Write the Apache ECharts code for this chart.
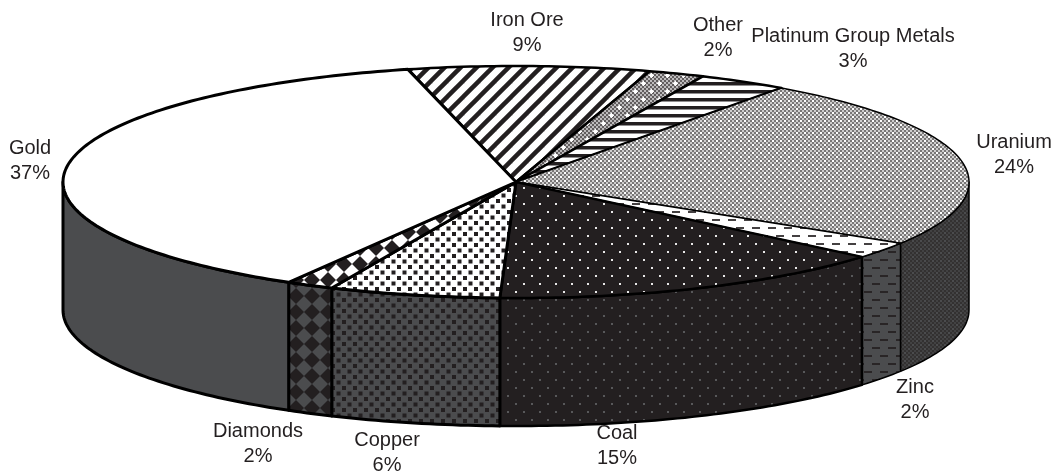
<!DOCTYPE html>
<html>
<head>
<meta charset="utf-8">
<title>Mining share</title>
<script src="https://cdn.jsdelivr.net/npm/echarts@6/dist/echarts.min.js"></script>
<style>
  html, body { margin: 0; padding: 0; background: #fff; }
  #chart { width: 1056px; height: 471px; }
</style>
</head>
<body>
<div id="chart"></div>
<script>
// slices clockwise, starting at the Gold / Iron Ore boundary
const categories = ['Iron Ore', 'Other', 'Platinum Group Metals', 'Uranium', 'Zinc', 'Coal', 'Copper', 'Diamonds', 'Gold']
// slice sizes as measured on the picture, the printed labels are rounded
const shares = [8.6, 2.0, 3.2, 23.9, 2.3, 14.4, 6.1, 1.7, 37.8]
const percentLabels = ['9%', '2%', '3%', '24%', '2%', '15%', '6%', '2%', '37%']

// pie geometry
const cx = 516, cy = 182, rx = 453, ry = 116, depth = 128
const startAngle = -13.8

// label centres and border widths, same order as categories
const labelCenters = [[527, 33], [718, 38], [853, 49], [1014, 155], [915, 400], [617, 446], [387, 453], [258, 444], [30, 161]]
const borderWidths = [2.5, 2.5, 2.5, 1.5, 1.5, 2.5, 3, 3, 3]

const INK = '#231f20'
const SIDE = '#4b4c4e'

// makes a repeating tile for a slice fill
const tile = (size, bg, draw) => {
  const c = document.createElement('canvas')
  c.width = c.height = size
  const ctx = c.getContext('2d')
  ctx.fillStyle = bg
  ctx.fillRect(0, 0, size, size)
  draw(ctx)
  return {image: c, repeat: 'repeat'}
}

const patterns = {
  'Iron Ore': (bg, ink) => tile(16, bg, ctx => {
    ctx.strokeStyle = ink
    ctx.lineWidth = 4.5
    for (const o of [-16, 0, 16]) {
      ctx.beginPath()
      ctx.moveTo(o - 2, 18)
      ctx.lineTo(o + 18, -2)
      ctx.stroke()
    }
  }),
  'Other': (bg, ink) => tile(16, bg, ctx => {
    ctx.fillStyle = ink
    ctx.globalAlpha = 0.6
    for (let x = 0; x < 16; x += 2) {
      for (let y = 0; y < 16; y += 2) {
        if ((x + y) % 4 === 0) ctx.fillRect(x, y, 2, 2)
      }
    }
    ctx.globalAlpha = 0.3
    ctx.fillRect(0, 0, 16, 16)
    ctx.globalAlpha = 1
    ctx.fillStyle = bg
    for (const [x, y] of [[3, 3], [11, 11]]) {
      ctx.fillRect(x - 1, y - 1, 3, 3)
      ctx.fillRect(x, y - 2, 1, 5)
      ctx.fillRect(x - 2, y, 5, 1)
    }
  }),
  'Platinum Group Metals': (bg, ink) => tile(8, bg, ctx => {
    ctx.fillStyle = ink
    ctx.fillRect(0, 2, 8, 3.5)
  }),
  'Uranium': (bg, ink) => tile(8, bg, ctx => {
    ctx.fillStyle = ink
    ctx.globalAlpha = 0.22
    ctx.fillRect(0, 0, 8, 8)
    ctx.globalAlpha = 0.5
    for (const [x, y] of [[2, 0], [6, 0], [0, 2], [4, 2], [2, 4], [6, 4], [0, 6], [4, 6]]) ctx.fillRect(x, y, 2, 2)
    ctx.globalAlpha = 1
    ctx.fillStyle = bg
    for (const [x, y] of [[0, 0], [4, 4]]) ctx.fillRect(x, y, 2, 2)
  }),
  'Zinc': (bg, ink) => tile(16, bg, ctx => {
    ctx.fillStyle = ink
    ctx.globalAlpha = 0.85
    ctx.fillRect(0, 3, 8, 2)
    ctx.fillRect(8, 11, 8, 2)
  }),
  'Coal': (bg, ink) => tile(16, bg, ctx => {
    ctx.fillStyle = ink
    ctx.fillRect(3, 3, 2, 2)
    ctx.fillRect(11, 11, 2, 2)
  }),
  'Copper': (bg, ink) => tile(11, bg, ctx => {
    ctx.fillStyle = ink
    ctx.fillRect(1, 1, 4, 4)
    ctx.fillRect(6.5, 6.5, 4, 4)
  }),
  'Diamonds': (bg, ink) => tile(16, bg, ctx => {
    ctx.fillStyle = ink
    ctx.beginPath()
    ctx.moveTo(8, 0)
    ctx.lineTo(16, 8)
    ctx.lineTo(8, 16)
    ctx.lineTo(0, 8)
    ctx.fill()
  }),
  'Gold': (bg) => bg
}

const fills = categories.map(name => {
  const dark = name === 'Coal'
  return {
    top: dark ? patterns[name](INK, '#e8e8e8') : patterns[name]('#ffffff', INK),
    side: dark ? patterns[name](INK, '#58585a') : patterns[name](SIDE, INK)
  }
})

// cumulative slice angles in degrees, clockwise from 12 o'clock
const total = shares.reduce((a, b) => a + b, 0)
const angles = [startAngle]
shares.forEach(v => angles.push(angles[angles.length - 1] + v / total * 360))

const rimPoint = (deg, dy) => {
  const t = deg * Math.PI / 180
  return [cx + rx * Math.sin(t), cy - ry * Math.cos(t) + dy]
}

const arc = (from, to, dy) => {
  const pts = []
  const n = Math.max(2, Math.ceil(Math.abs(to - from)))
  for (let i = 0; i <= n; i++) pts.push(rimPoint(from + (to - from) * i / n, dy))
  return pts
}

const renderSlice = (params) => {
  const i = params.dataIndex
  const a0 = angles[i], a1 = angles[i + 1]
  const lineWidth = borderWidths[i]
  const children = []

  // wall of the cylinder, only the front half is visible
  const lo = Math.max(a0, 90), hi = Math.min(a1, 270)
  if (hi > lo) {
    children.push({
      type: 'polygon',
      z2: 1,
      shape: {points: arc(lo, hi, 0).concat(arc(hi, lo, depth))},
      style: {fill: fills[i].side, stroke: '#000', lineWidth: lineWidth, lineJoin: 'round'}
    })
  }

  children.push({
    type: 'polygon',
    z2: 2,
    shape: {points: [[cx, cy]].concat(arc(a0, a1, 0))},
    style: {fill: fills[i].top, stroke: '#000', lineWidth: lineWidth, lineJoin: 'round'}
  })

  children.push({
    type: 'text',
    z2: 3,
    x: labelCenters[i][0],
    y: labelCenters[i][1],
    style: {
      text: categories[i] + '\n' + percentLabels[i],
      fill: '#231f20',
      font: '20px "Liberation Sans", Arial, sans-serif',
      lineHeight: 25,
      align: 'center',
      verticalAlign: 'middle'
    }
  })

  return {type: 'group', children: children}
}

const chart = echarts.init(document.getElementById('chart'), null, {renderer: 'canvas'})
chart.setOption({
  animation: false,
  backgroundColor: '#ffffff',
  series: [{
    type: 'custom',
    coordinateSystem: 'none',
    silent: true,
    clip: false,
    renderItem: renderSlice,
    data: shares.map((v, i) => ({name: categories[i], value: v}))
  }]
})
</script>
</body>
</html>
